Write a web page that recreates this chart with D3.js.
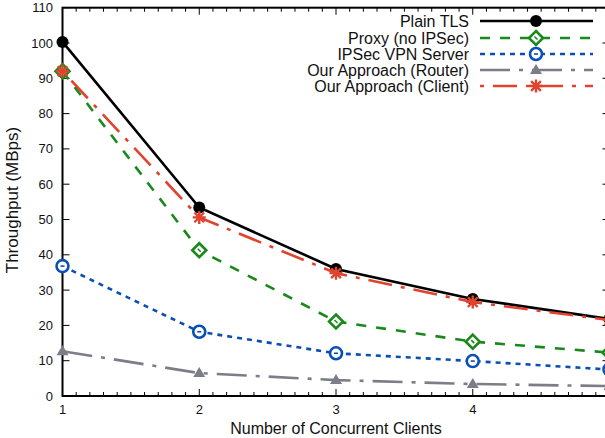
<!DOCTYPE html>
<html>
<head>
<meta charset="utf-8">
<script src="https://cdn.jsdelivr.net/npm/d3@7"></script>
<style>
  body { margin: 0; background: #fff; }
  svg { display: block; font-family: "Liberation Sans", Arial, sans-serif; }
</style>
</head>
<body>
<div id="chart"></div>
<script>
// data
var clients = [1, 2, 3, 4, 5];
var plainTLS = [100.3, 53.4, 36.0, 27.5, 21.8];
var proxy = [92.0, 41.3, 21.1, 15.4, 12.3];
var ipsec = [36.8, 18.2, 12.1, 9.9, 7.5];
var router = [12.7, 6.5, 4.5, 3.4, 2.8];
var client = [92.0, 50.6, 34.8, 26.6, 21.5];
var yTicks = [0, 10, 20, 30, 40, 50, 60, 70, 80, 90, 100, 110];
var xTicks = [1, 2, 3, 4];

var series = [
  { name: 'Plain TLS', values: plainTLS, color: '#000000', dash: null, marker: 'dot' },
  { name: 'Proxy (no IPSec)', values: proxy, color: '#18891a', dash: '10,10', marker: 'diamond' },
  { name: 'IPSec VPN Server', values: ipsec, color: '#0a4fb4', dash: '5,5', marker: 'circle' },
  { name: 'Our Approach (Router)', values: router, color: '#7b7e86', dash: '30,9,4,9', marker: 'triangle' },
  { name: 'Our Approach (Client)', values: client, color: '#e0442e', dash: '4,9,24,9', marker: 'star' }
];

var width = 605, height = 438;
var x = d3.scaleLinear().domain([1, 5]).range([62.5, 609.5]);
var y = d3.scaleLinear().domain([0, 110]).range([396, 7.7]);

var svg = d3.select('#chart').append('svg')
  .attr('width', width)
  .attr('height', height);

// ticks
var minor = d3.range(1, 5.0001, 0.1);
var g = svg.append('g').attr('stroke', '#000').attr('stroke-width', 1);
minor.forEach(function (v) {
  var major = Math.abs(v - Math.round(v)) < 1e-6;
  var len = major ? 7 : 4;
  g.append('line').attr('x1', x(v)).attr('x2', x(v)).attr('y1', y(0)).attr('y2', y(0) - len);
  g.append('line').attr('x1', x(v)).attr('x2', x(v)).attr('y1', y(110)).attr('y2', y(110) + len);
});
yTicks.forEach(function (v) {
  g.append('line').attr('x1', x(1)).attr('x2', x(1) + 7).attr('y1', y(v)).attr('y2', y(v));
  g.append('line').attr('x1', x(5)).attr('x2', x(5) - 7).attr('y1', y(v)).attr('y2', y(v));
});

// frame
svg.append('rect')
  .attr('x', x(1)).attr('y', y(110))
  .attr('width', x(5) - x(1)).attr('height', y(0) - y(110))
  .attr('fill', 'none').attr('stroke', '#000').attr('stroke-width', 2);

// tick labels
svg.selectAll('.ylab').data(yTicks).enter().append('text')
  .attr('x', 53).attr('y', function (d) { return y(d); })
  .attr('dy', '0.35em').attr('text-anchor', 'end')
  .attr('font-size', 13).attr('fill', '#111')
  .text(function (d) { return d; });
svg.selectAll('.xlab').data(xTicks).enter().append('text')
  .attr('x', function (d) { return x(d); }).attr('y', 414)
  .attr('text-anchor', 'middle')
  .attr('font-size', 13).attr('fill', '#111')
  .text(function (d) { return d; });

// axis titles
svg.append('text').attr('x', 336).attr('y', 434).attr('text-anchor', 'middle')
  .attr('font-size', 16).attr('fill', '#111').text('Number of Concurrent Clients');
svg.append('text').attr('transform', 'translate(18,200) rotate(-90)')
  .attr('text-anchor', 'middle').attr('font-size', 17).attr('fill', '#111')
  .text('Throughput (MBps)');

// markers
function drawMarker(sel, type, color, cx, cy) {
  var m = sel.append('g').attr('transform', 'translate(' + cx + ',' + cy + ')');
  if (type === 'dot') {
    m.append('circle').attr('r', 6).attr('fill', color);
  } else if (type === 'diamond') {
    m.append('path').attr('d', 'M0,-7L7,0L0,7L-7,0Z')
      .attr('fill', '#fff').attr('stroke', color).attr('stroke-width', 2.6);
    m.append('path').attr('d', 'M-1.5,-1.5L1.5,1.5').attr('stroke', color).attr('stroke-width', 1.5);
  } else if (type === 'circle') {
    m.append('circle').attr('r', 6).attr('fill', '#fff').attr('stroke', color).attr('stroke-width', 2.6);
    m.append('path').attr('d', 'M-2,0L2,0').attr('stroke', color).attr('stroke-width', 1.6);
  } else if (type === 'triangle') {
    m.append('path').attr('d', 'M0,-6L6,4L-6,4Z').attr('fill', color);
  } else if (type === 'star') {
    var s = 6.5;
    m.append('path')
      .attr('d', 'M' + (-s) + ',0L' + s + ',0M0,' + (-s) + 'L0,' + s +
        'M' + (-s * 0.75) + ',' + (-s * 0.75) + 'L' + (s * 0.75) + ',' + (s * 0.75) +
        'M' + (-s * 0.75) + ',' + (s * 0.75) + 'L' + (s * 0.75) + ',' + (-s * 0.75))
      .attr('stroke', color).attr('stroke-width', 2.4);
  }
}

var line = d3.line()
  .x(function (d, i) { return x(clients[i]); })
  .y(function (d) { return y(d); });

// draw series bottom-up so Plain TLS and Client sit on top
var order = [3, 2, 1, 0, 4];
order.forEach(function (k) {
  var s = series[k];
  svg.append('path')
    .datum(s.values)
    .attr('d', line)
    .attr('fill', 'none')
    .attr('stroke', s.color)
    .attr('stroke-width', 2.6)
    .attr('stroke-dasharray', s.dash);
  s.values.forEach(function (v, i) {
    drawMarker(svg, s.marker, s.color, x(clients[i]), y(v));
  });
});

// legend
var legendY = [21, 38, 54, 70, 86];
series.forEach(function (s, i) {
  var ly = legendY[i];
  svg.append('text').attr('x', 469).attr('y', ly).attr('dy', '0.35em')
    .attr('text-anchor', 'end').attr('font-size', 16).attr('fill', '#111').text(s.name);
  svg.append('line').attr('x1', 480).attr('x2', 593).attr('y1', ly).attr('y2', ly)
    .attr('stroke', s.color).attr('stroke-width', 2.6).attr('stroke-dasharray', s.dash);
  drawMarker(svg, s.marker, s.color, 536, ly);
});
</script>
</body>
</html>
